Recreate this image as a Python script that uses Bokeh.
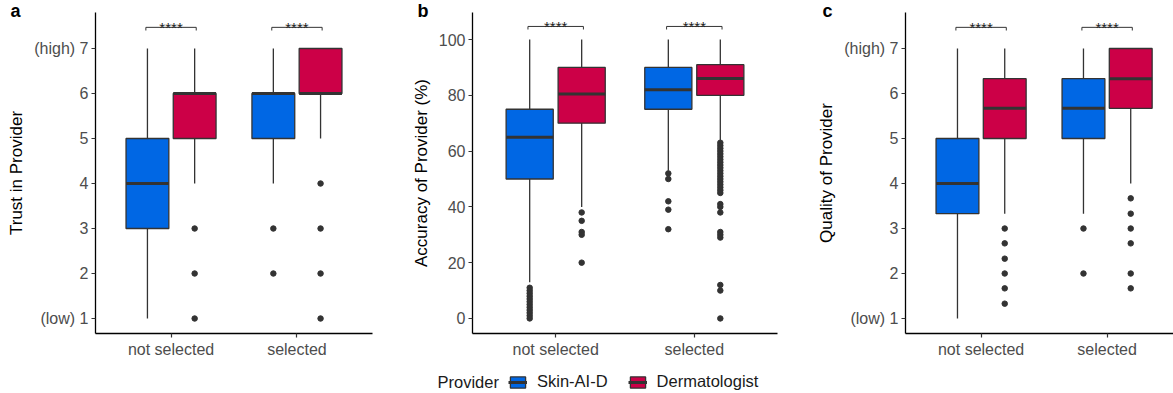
from bokeh.plotting import figure
from bokeh.models import ColumnDataSource, Range1d, FixedTicker, Label, Legend, LegendItem
from bokeh.layouts import row, column
from bokeh.embed import file_html
from bokeh.resources import INLINE
from bokeh.core.properties import value

# ---------------- data ----------------
groups = ["not selected", "selected"]
providers = ["Skin-AI-D", "Dermatologist"]
provider_colors = ["#0067E4", "#CC0047"]
sig_labels = ["****", "****"]

# panel a: Trust in Provider  (index 0 = not selected, 1 = selected)
trust_ai_low = [1, 4]
trust_ai_q1 = [3, 5]
trust_ai_med = [4, 6]
trust_ai_q3 = [5, 6]
trust_ai_high = [7, 7]
trust_ai_out = [[], [3, 2]]
trust_derm_low = [4, 5]
trust_derm_q1 = [5, 6]
trust_derm_med = [6, 6]
trust_derm_q3 = [6, 7]
trust_derm_high = [7, 7]
trust_derm_out = [[3, 2, 1], [4, 3, 2, 1]]

# panel b: Accuracy of Provider (%)
acc_ai_low = [13, 53]
acc_ai_q1 = [50, 75]
acc_ai_med = [65, 82]
acc_ai_q3 = [75, 90]
acc_ai_high = [100, 100]
acc_ai_out = [[11, 10, 9, 8, 7, 6, 5, 4, 3, 2, 1, 0], [52, 50, 42, 39, 32]]
acc_derm_low = [40, 64]
acc_derm_q1 = [70, 80]
acc_derm_med = [80.5, 86]
acc_derm_q3 = [90, 91]
acc_derm_high = [100, 100]
acc_derm_out = [[38, 35, 31, 30, 20],
                [63, 62, 61, 60, 59, 58, 57, 56, 55, 54, 53, 52, 51, 50, 49, 48, 47, 46, 45,
                 41, 40, 38, 31, 30, 29, 12, 10, 0]]

# panel c: Quality of Provider
qual_ai_low = [1, 3.33]
qual_ai_q1 = [3.33, 5]
qual_ai_med = [4, 5.67]
qual_ai_q3 = [5, 6.33]
qual_ai_high = [7, 7]
qual_ai_out = [[], [3, 2]]
qual_derm_low = [3.33, 4]
qual_derm_q1 = [5, 5.67]
qual_derm_med = [5.67, 6.33]
qual_derm_q3 = [6.33, 7]
qual_derm_high = [7, 7]
qual_derm_out = [[3, 2.67, 2.33, 2, 1.67, 1.33], [3.67, 3.33, 3, 2.67, 2, 1.67]]

likert_ticks = [1, 2, 3, 4, 5, 6, 7]
likert_labels = {1: "(low) 1", 7: "(high) 7"}
acc_ticks = [0, 20, 40, 60, 80, 100]

# ---------------- style ----------------
FONT = "Liberation Sans"
BOX_W = 0.34
DODGE = 0.1875
BRACKET_HALF = 0.2
DARK = "#333333"
TOP = 12
FRAME_H = 321
PANEL_H = 361
LEGEND_H = 32
LETTER_PAD = 8


def box_renderers(p, stats, visible=True):
    rends = []
    for i, (color, low, q1, med, q3, high, outs) in enumerate(stats):
        off = -DODGE if i == 0 else DODGE
        xs = [g + 1 + off for g in range(len(groups))]
        src = ColumnDataSource(dict(
            x=xs, low=low, q1=q1, med=med, q3=q3, high=high,
            x0=[x - BOX_W / 2 for x in xs], x1=[x + BOX_W / 2 for x in xs]))
        p.segment(x0="x", y0="low", x1="x", y1="high", source=src,
                  line_color=DARK, line_width=1.3, visible=visible)
        box = p.vbar(x="x", width=BOX_W, bottom="q1", top="q3", source=src,
                     fill_color=color, line_color=DARK, line_width=1.3, visible=visible)
        mline = p.segment(x0="x0", y0="med", x1="x1", y1="med", source=src,
                          line_color=DARK, line_width=3, visible=visible)
        if visible:
            ox, oy = [], []
            for g, vals in enumerate(outs):
                for v in vals:
                    ox.append(xs[g])
                    oy.append(v)
            p.scatter(ox, oy, size=5.5, color=DARK)
        rends.append((box, mline))
    return rends


def make_panel(width, b_left, b_right, x_end, y_start, y_end, yticks, yover, ylabel,
               letter, letter_x, stats, sig_y, sig_tick):
    p = figure(width=width, height=PANEL_H, output_backend="svg", toolbar_location=None,
               x_range=Range1d(0.4, x_end), y_range=Range1d(y_start, y_end),
               min_border_left=b_left, min_border_right=b_right,
               min_border_top=TOP, min_border_bottom=PANEL_H - TOP - FRAME_H,
               title=letter)
    p.grid.visible = False
    p.outline_line_color = None
    p.background_fill_color = "white"
    p.border_fill_color = "white"

    # panel letter as the plot title, pulled into the top-left corner
    p.title.align = "left"
    p.title.offset = letter_x - b_left - LETTER_PAD
    p.title.text_font = FONT
    p.title.text_font_style = "bold"
    p.title.text_font_size = "18px"
    p.title.text_color = "black"
    p.title.vertical_align = "top"
    p.title.padding = LETTER_PAD
    p.title.standoff = -24 - 2 * LETTER_PAD

    box_renderers(p, stats)

    # significance brackets
    bx0 = [g + 1 - BRACKET_HALF for g in range(len(groups))]
    bx1 = [g + 1 + BRACKET_HALF for g in range(len(groups))]
    by = [sig_y] * len(groups)
    bylow = [sig_y - sig_tick] * len(groups)
    p.segment(x0=bx0, y0=by, x1=bx1, y1=by, line_color=DARK, line_width=1)
    p.segment(x0=bx0, y0=bylow, x1=bx0, y1=by, line_color=DARK, line_width=1)
    p.segment(x0=bx1, y0=bylow, x1=bx1, y1=by, line_color=DARK, line_width=1)
    p.text(x=[g + 1 for g in range(len(groups))], y=by, text=sig_labels,
           text_align="center", text_baseline="alphabetic",
           text_font=value(FONT), text_font_size="15px", text_color="#222222")

    # axes
    p.xaxis.ticker = FixedTicker(ticks=[g + 1 for g in range(len(groups))])
    p.xaxis.major_label_overrides = {g + 1: name for g, name in enumerate(groups)}
    p.yaxis.ticker = FixedTicker(ticks=yticks)
    if yover:
        p.yaxis.major_label_overrides = yover
    for ax in (p.xaxis, p.yaxis):
        ax.axis_line_color = "black"
        ax.axis_line_width = 1.3
        ax.major_tick_line_color = DARK
        ax.major_tick_line_width = 1.2
        ax.major_tick_out = 4
        ax.major_tick_in = 0
        ax.minor_tick_line_color = None
        ax.major_label_text_font = FONT
        ax.major_label_text_font_size = "16px"
        ax.major_label_text_color = "#4D4D4D"
        ax.major_label_standoff = 3
    p.yaxis.axis_label = ylabel
    p.yaxis.axis_label_text_font = FONT
    p.yaxis.axis_label_text_font_size = "17px"
    p.yaxis.axis_label_text_font_style = "normal"
    p.yaxis.axis_label_text_color = "black"
    p.yaxis.axis_label_standoff = 5
    return p


stats_a = [
    (provider_colors[0], trust_ai_low, trust_ai_q1, trust_ai_med, trust_ai_q3, trust_ai_high, trust_ai_out),
    (provider_colors[1], trust_derm_low, trust_derm_q1, trust_derm_med, trust_derm_q3, trust_derm_high, trust_derm_out),
]
stats_b = [
    (provider_colors[0], acc_ai_low, acc_ai_q1, acc_ai_med, acc_ai_q3, acc_ai_high, acc_ai_out),
    (provider_colors[1], acc_derm_low, acc_derm_q1, acc_derm_med, acc_derm_q3, acc_derm_high, acc_derm_out),
]
stats_c = [
    (provider_colors[0], qual_ai_low, qual_ai_q1, qual_ai_med, qual_ai_q3, qual_ai_high, qual_ai_out),
    (provider_colors[1], qual_derm_low, qual_derm_q1, qual_derm_med, qual_derm_q3, qual_derm_high, qual_derm_out),
]

p1 = make_panel(390, 95, 18, 2.6, 0.667, 7.8, likert_ticks, likert_labels,
                "Trust in Provider", "a", 10, stats_a, 7.47, 0.07)
p2 = make_panel(400, 82, 13, 2.6, -5.4, 109.7, acc_ticks, None,
                "Accuracy of Provider (%)", "b", 27, stats_b, 104.7, 1.1)
p3 = make_panel(383, 115, 0, 2.527, 0.667, 7.8, likert_ticks, likert_labels,
                "Quality of Provider", "c", 32, stats_c, 7.47, 0.07)

# legend strip: its key renderers are hidden, only their legend keys are drawn
pl = figure(width=1173, height=LEGEND_H, output_backend="svg", toolbar_location=None,
            x_range=Range1d(20, 21), y_range=Range1d(-30, -29),
            x_axis_type=None, y_axis_type=None,
            min_border_left=0, min_border_right=0, min_border_top=0, min_border_bottom=0)
pl.grid.visible = False
pl.outline_line_color = None
leg_rends = box_renderers(pl, stats_a, visible=False)

legend = Legend(
    items=[LegendItem(label=providers[i], renderers=list(leg_rends[i])) for i in range(2)],
    orientation="horizontal", location=(508, 2),
    glyph_width=19, glyph_height=14, label_standoff=10, spacing=20,
    padding=0, margin=0, inactive_fill_alpha=0,
    label_text_font=FONT, label_text_font_size="16.5px", label_text_color="#1A1A1A",
    border_line_color=None, background_fill_alpha=0)
pl.add_layout(legend, "center")
pl.add_layout(Label(x=437, y=11.5, x_units="screen", y_units="screen", text="Provider",
                    text_font=FONT, text_font_size="16.5px", text_color="#1A1A1A",
                    text_baseline="middle"))

layout = column(row(p1, p2, p3), pl)
open("out.html", "w").write(file_html(layout, INLINE))
